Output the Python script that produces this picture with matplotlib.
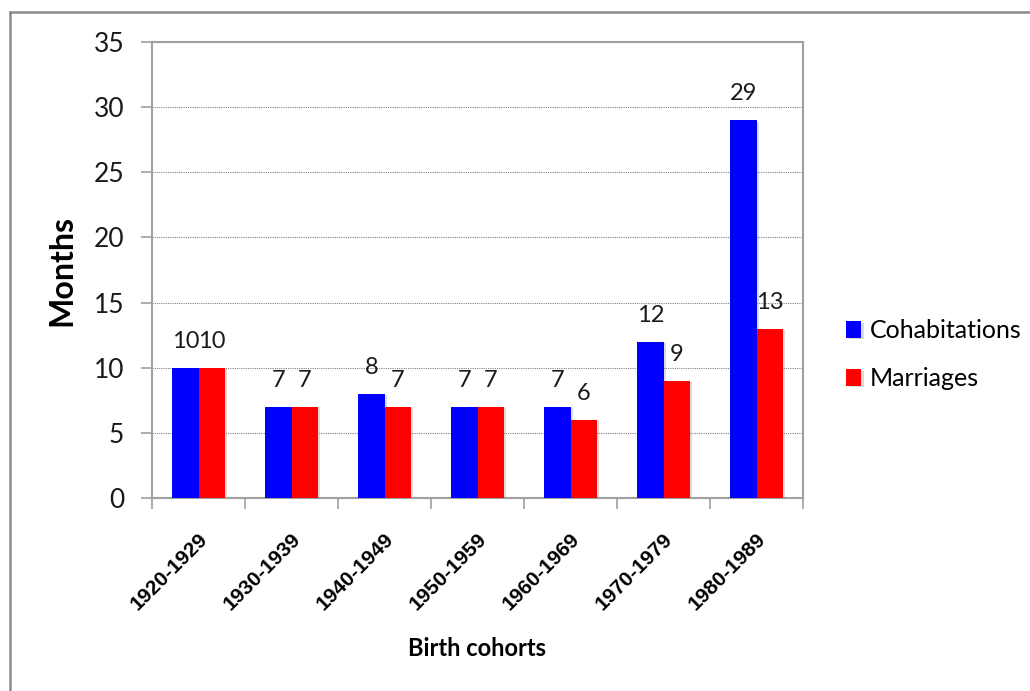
import matplotlib
matplotlib.use("Agg")
import matplotlib.pyplot as plt
import matplotlib.patheffects as pe
from matplotlib.lines import Line2D
import numpy as np

categories = ["1920-1929", "1930-1939", "1940-1949", "1950-1959",
              "1960-1969", "1970-1979", "1980-1989"]
cohabitations = [10, 7, 8, 7, 7, 12, 29]
marriages = [10, 7, 7, 7, 6, 9, 13]
yticks = [0, 5, 10, 15, 20, 25, 30, 35]

W, H = 1030, 691
fig = plt.figure(figsize=(W / 100, H / 100), dpi=100)
fig.patch.set_facecolor("white")

L, R, T, B = 152, 803, 42, 498
ax = fig.add_axes([L / W, 1 - B / H, (R - L) / W, (B - T) / H])

x = np.arange(len(categories))
bw = 0.28
shadow = [pe.SimplePatchShadow(offset=(2, -1), shadow_rgbFace="#999999", alpha=0.35), pe.Normal()]
b1 = ax.bar(x - bw / 2, cohabitations, bw, color="#0000ff", label="Cohabitations",
            path_effects=shadow, zorder=3)
b2 = ax.bar(x + bw / 2, marriages, bw, color="#ff0000", label="Marriages",
            path_effects=shadow, zorder=3)

lab_font = dict(family="Lato", size=17, color="#1a1a1a")
for xi, v in zip(x, cohabitations):
    ax.annotate(str(v), (xi - bw / 2, v), xytext=(0, 20), textcoords="offset pixels",
                ha="center", va="baseline", **lab_font)
for xi, v in zip(x, marriages):
    ax.annotate(str(v), (xi + bw / 2, v), xytext=(0, 20), textcoords="offset pixels",
                ha="center", va="baseline", **lab_font)

ax.set_xlim(-0.5, len(categories) - 0.5)
ax.set_ylim(0, 35)
ax.set_yticks(yticks)
ax.set_yticklabels([str(t) for t in yticks], family="Lato", fontsize=19, color="#1a1a1a")
ax.tick_params(axis="y", length=8, width=1.2, color="#a0a0a0", pad=12)

ax.set_xticks(x)
ax.set_xticklabels([])
ax.tick_params(axis="x", which="major", length=0)
ax.set_xticks(np.arange(len(categories) + 1) - 0.5, minor=True)
ax.tick_params(axis="x", which="minor", length=8, width=1.2, color="#a0a0a0")

for xi, c in zip(x, categories):
    ax.annotate(c, (xi, 0), xytext=(6, -38), textcoords="offset pixels",
                rotation=45, rotation_mode="anchor", ha="right", va="center",
                family="Liberation Sans", fontweight="bold", fontsize=15, color="black")

ax.grid(axis="y", linestyle=(0, (1, 1)), color="#808080", linewidth=0.8, zorder=0)
ax.set_axisbelow(True)
for s in ax.spines.values():
    s.set_color("#a0a0a0")
    s.set_linewidth(1.5)

fig.text(62 / W, 1 - 270 / H, "Months", rotation=90, ha="center", va="center",
         family="Lato", fontweight="bold", fontsize=23, color="black")
fig.text(477 / W, 1 - 648 / H, "Birth cohorts", ha="center", va="center",
         family="Lato", fontweight="bold", fontsize=17, color="black")

fig.legend(handles=[b1, b2], loc="center left",
           bbox_to_anchor=(846 / W, 1 - 355 / H), frameon=False,
           prop=dict(family="Lato", size=18), handlelength=0.6, handleheight=0.65,
           handletextpad=0.35, labelspacing=1.0, borderpad=0, borderaxespad=0)

# outer chart frame (extends past right/bottom edges)
fig.add_artist(Line2D([10 / W, 1.0], [1 - 12 / H, 1 - 12 / H], transform=fig.transFigure,
                      color="#8c8c8c", linewidth=1.8))
fig.add_artist(Line2D([10 / W, 10 / W], [1 - 12 / H, 0.0], transform=fig.transFigure,
                      color="#8c8c8c", linewidth=1.8))

fig.savefig("out.png", dpi=100)
